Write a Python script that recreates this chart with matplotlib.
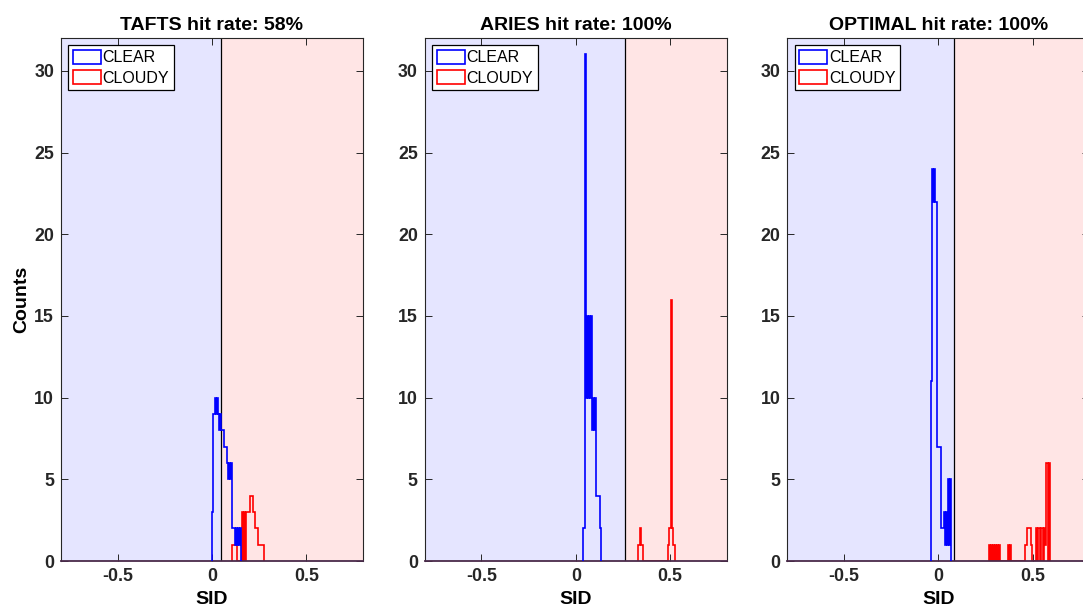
import numpy as np
import matplotlib.pyplot as plt
from matplotlib.patches import Patch

plt.rcParams['font.family'] = ['Liberation Sans', 'DejaVu Sans']

# histogram bins (SID)
bin_width = 0.0053

titles = ["TAFTS hit rate: 58%", "ARIES hit rate: 100%", "OPTIMAL hit rate: 100%"]
thresholds = [0.05, 0.26, 0.085]

# CLEAR / CLOUDY counts per bin, each starting at *_start
tafts_clear_start = 0.0
tafts_clear = [3, 9, 9, 10, 9, 10, 9, 8, 9, 8, 8, 8, 7, 7, 7, 6, 5, 6, 5, 6,
               2, 2, 2, 1, 2, 1, 2, 1, 2]
tafts_cloudy_start = 0.106
tafts_cloudy = [1, 1, 1, 1, 1, 0, 0, 0, 0, 0, 3, 0, 3, 0, 3, 3, 3, 3, 4, 4,
                4, 3, 3, 2, 2, 2, 1, 1, 1, 1, 1, 1]

aries_clear_start = 0.037
aries_clear = [2, 2, 31, 10, 15, 10, 15, 10, 15, 8, 10, 8, 10, 4, 4, 4, 4, 2]
aries_cloudy_start = 0.328
aries_cloudy = [1, 1, 2, 1, 1] + [0] * 25 + [1, 2, 2, 16, 2, 1, 1]

optimal_clear_start = -0.039
optimal_clear = [11, 24, 22, 24, 22, 22, 7, 7, 7, 7, 2, 2, 2, 3, 1, 3, 1, 5,
                 1, 5]
optimal_cloudy_start = 0.268
optimal_cloudy = ([1, 0, 1, 0, 1, 0, 1, 0, 1, 0, 1] + [0] * 8 + [1, 0, 1]
                  + [0] * 14 + [1, 1, 2, 2, 2, 2, 1, 0, 0, 0, 0,
                                2, 0, 2, 2, 0, 2, 2, 0, 2, 1, 6, 6, 0, 6])

clear_data = [(tafts_clear_start, tafts_clear),
              (aries_clear_start, aries_clear),
              (optimal_clear_start, optimal_clear)]
cloudy_data = [(tafts_cloudy_start, tafts_cloudy),
               (aries_cloudy_start, aries_cloudy),
               (optimal_cloudy_start, optimal_cloudy)]

fig = plt.figure(figsize=(10.83, 6.08), dpi=100)
lefts = [0.0563, 0.3922, 0.727]
axes = [fig.add_axes([l, 0.0773, 0.2789, 0.860]) for l in lefts]

xmin, xmax = -0.8, 0.8
dark = "#262626"

for i, ax in enumerate(axes):
    thr = thresholds[i]
    ax.axvspan(xmin, thr, color="#e5e5ff", zorder=0, lw=0)
    ax.axvspan(thr, xmax, color="#ffe5e5", zorder=0, lw=0)
    ax.axvline(thr, color="black", lw=0.9, zorder=1)

    s, c = cloudy_data[i]
    edges = s + bin_width * np.arange(len(c) + 1)
    ax.stairs(c, edges, color="red", lw=1.2, zorder=2)
    s, c = clear_data[i]
    edges = s + bin_width * np.arange(len(c) + 1)
    ax.stairs(c, edges, color="blue", lw=1.2, zorder=3)

    ax.set_xlim(xmin, xmax)
    ax.set_ylim(0, 32)
    ax.set_xticks([-0.5, 0, 0.5])
    ax.set_xticklabels(["-0.5", "0", "0.5"])
    ax.set_yticks([0, 5, 10, 15, 20, 25, 30])
    ax.tick_params(direction="in", length=4.8, width=0.7, top=True,
                   right=True, labelsize=12.8, colors=dark, pad=5)
    for lab in ax.get_xticklabels() + ax.get_yticklabels():
        lab.set_fontweight("bold")
    for sp in ax.spines.values():
        sp.set_color(dark)
        sp.set_linewidth(0.8)
    ax.spines["bottom"].set_color("#4a2a4a")
    ax.spines["bottom"].set_linewidth(1.3)

    ax.set_title(titles[i], fontsize=14, fontweight="bold", pad=6)
    ax.set_xlabel("SID", fontsize=14, fontweight="bold", labelpad=4)

    handles = [Patch(facecolor="none", edgecolor="blue", lw=1.2, label="CLEAR"),
               Patch(facecolor="none", edgecolor="red", lw=1.2, label="CLOUDY")]
    leg = ax.legend(handles=handles, loc="upper left", fontsize=11.5,
                    fancybox=False, framealpha=1, edgecolor="black",
                    borderaxespad=0.45, borderpad=0.3, labelspacing=0.3,
                    handlelength=1.75, handleheight=0.95, handletextpad=0.1)
    leg.get_frame().set_linewidth(0.9)

axes[0].set_ylabel("Counts", fontsize=14, fontweight="bold", labelpad=3)

fig.savefig("out.png", dpi=100)
